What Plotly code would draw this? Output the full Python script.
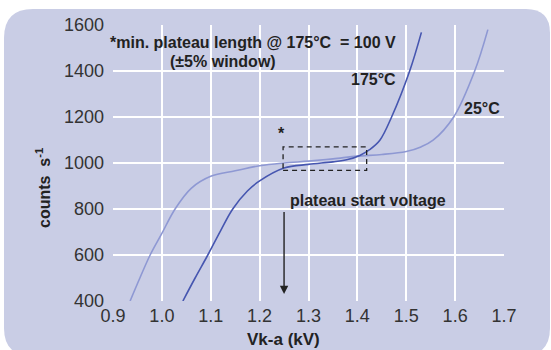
import plotly.graph_objects as go

# ---- data ----
v25 = [0.935, 0.955, 0.976, 1.0, 1.027, 1.06, 1.1, 1.15, 1.2, 1.25, 1.3, 1.35, 1.4, 1.45, 1.5, 1.53, 1.555, 1.597, 1.64, 1.667]
c25 = [400, 500, 600, 694, 800, 890, 942, 966, 988, 1000, 1008, 1018, 1030, 1037, 1050, 1070, 1099, 1200, 1400, 1580]

v175 = [1.043, 1.068, 1.094, 1.12, 1.145, 1.175, 1.2, 1.25, 1.3, 1.35, 1.38, 1.405, 1.425, 1.446, 1.47, 1.507, 1.531]
c175 = [400, 500, 600, 705, 800, 878, 922, 978, 994, 1005, 1015, 1033, 1058, 1099, 1200, 1400, 1568]

x_ticks = [0.9, 1.0, 1.1, 1.2, 1.3, 1.4, 1.5, 1.6, 1.7]
x_ticklabels = ["0.9", "1.0", "1.1", "1.2", "1.3", "1.4", "1.5", "1.6", "1.7"]
y_ticks = [400, 600, 800, 1000, 1200, 1400, 1600]

plateau_v = [1.248, 1.419]      # dashed window, kV
plateau_c = [968, 1070]         # +-5% window, counts/s
plateau_start = 1.25
arrow_c = [793, 430]

W, H = 551, 350
ML, MR, MT, MB = 113, 47, 25, 49
PW, PH = W - ML - MR, H - MT - MB

def px(x):
    return (x - ML) / PW

def py(y):
    return 1 - (y - MT) / PH

FONT = "Liberation Sans, Arial, Helvetica, sans-serif"
PANEL = "#c9cde5"
PLOTBG = "#dcdff0"
C25 = "#8e98d3"
C175 = "#4656b0"
TXT = "#222222"

fig = go.Figure()
fig.add_trace(go.Scatter(x=v25, y=c25, mode="lines", line=dict(color=C25, width=1.6, shape="spline", smoothing=1.0), hoverinfo="skip"))
fig.add_trace(go.Scatter(x=v175, y=c175, mode="lines", line=dict(color=C175, width=1.6, shape="spline", smoothing=1.0), hoverinfo="skip"))

# rounded background panel (pixel geometry converted to paper coords)
L, T, R, B = 4, 9, 550, 356
rtl, rtr, rbl, rbr = 29, 24, 28, 28
path = (
    f"M {px(L)},{py(T + rtl)} Q {px(L)},{py(T)} {px(L + rtl)},{py(T)} "
    f"L {px(R - rtr)},{py(T)} Q {px(R)},{py(T)} {px(R)},{py(T + rtr)} "
    f"L {px(R)},{py(B - rbr)} Q {px(R)},{py(B)} {px(R - rbr)},{py(B)} "
    f"L {px(L + rbl)},{py(B)} Q {px(L)},{py(B)} {px(L)},{py(B - rbl)} Z"
)
shapes = [
    dict(type="path", xref="paper", yref="paper", path=path, fillcolor=PANEL, line=dict(width=0), layer="below"),
    dict(type="rect", xref="x", yref="y", x0=plateau_v[0], x1=plateau_v[1], y0=plateau_c[0], y1=plateau_c[1],
         line=dict(color=TXT, width=1.3, dash="5px,4px"), fillcolor="rgba(0,0,0,0)"),
]

annotations = [
    dict(x=px(108), y=py(42), xref="paper", yref="paper", xanchor="left", yanchor="middle", showarrow=False,
         text="<b>*min. plateau length @ 175°C  = 100 V</b>", font=dict(size=16, color=TXT, family=FONT)),
    dict(x=px(168), y=py(61), xref="paper", yref="paper", xanchor="left", yanchor="middle", showarrow=False,
         text="<b>(±5% window)</b>", font=dict(size=16, color=TXT, family=FONT)),
    dict(x=1.434, y=1361, xref="x", yref="y", xanchor="center", yanchor="middle", showarrow=False,
         text="<b>175°C</b>", font=dict(size=16, color=TXT, family=FONT)),
    dict(x=1.656, y=1238, xref="x", yref="y", xanchor="center", yanchor="middle", showarrow=False,
         text="<b>25°C</b>", font=dict(size=16, color=TXT, family=FONT)),
    dict(x=1.245, y=1129, xref="x", yref="y", xanchor="center", yanchor="middle", showarrow=False,
         text="<b>*</b>", font=dict(size=16, color=TXT, family=FONT)),
    dict(x=1.258, y=837, xref="x", yref="y", xanchor="left", yanchor="middle", showarrow=False,
         text="<b>plateau start voltage</b>", font=dict(size=16, color=TXT, family=FONT)),
    dict(x=plateau_start, y=arrow_c[1], ax=plateau_start, ay=arrow_c[0], xref="x", yref="y", axref="x", ayref="y",
         text="", showarrow=True, arrowhead=2, arrowsize=1.2, arrowwidth=1.4, arrowcolor=TXT),
    dict(x=px(283), y=py(339), xref="paper", yref="paper", xanchor="center", yanchor="middle", showarrow=False,
         text="<b>Vk-a (kV)</b>", font=dict(size=17, color=TXT, family=FONT)),
    dict(x=px(43), y=py(188), xref="paper", yref="paper", xanchor="center", yanchor="middle", showarrow=False,
         textangle=-90, text="<b>counts  s<sup>-1</sup></b>", font=dict(size=16, color=TXT, family=FONT)),
]

fig.update_layout(
    width=W, height=H, autosize=False,
    margin=dict(l=ML, r=MR, t=MT, b=MB, pad=0),
    paper_bgcolor="white", plot_bgcolor=PLOTBG,
    showlegend=False,
    shapes=shapes, annotations=annotations,
    xaxis=dict(range=[0.9, 1.7], tickvals=x_ticks, ticktext=x_ticklabels, showgrid=True, gridcolor="white", gridwidth=1.5,
               zeroline=False, showline=False, ticks="", ticklabelstandoff=2,
               tickfont=dict(size=18, color="#333333", family=FONT)),
    yaxis=dict(range=[400, 1600], tickvals=y_ticks, showgrid=True, gridcolor="white", gridwidth=1.5,
               zeroline=False, showline=False, ticks="", ticklabelstandoff=8,
               tickfont=dict(size=18, color="#333333", family=FONT)),
)

fig.write_html("out.html")
